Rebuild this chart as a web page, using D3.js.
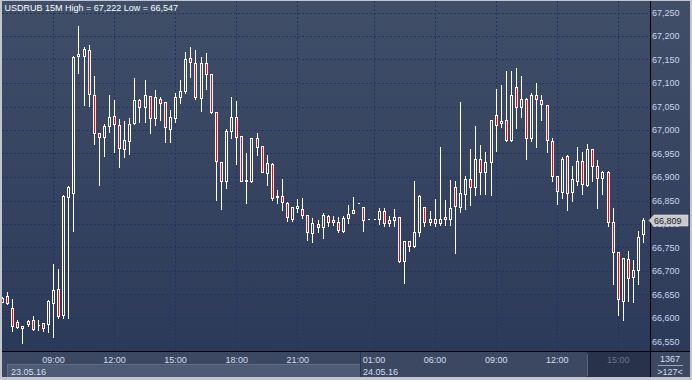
<!DOCTYPE html>
<html>
<head>
<meta charset="utf-8">
<script src="https://cdn.jsdelivr.net/npm/d3@7"></script>
<style>
  body { margin: 0; background: #c3c6cc; }
  svg { display: block; font-family: "Liberation Sans", Arial, sans-serif; }
</style>
</head>
<body>
<div id="chart"></div>
<script>
// USDRUB 15M candles (oldest first)
var opens = [
  66.643, 66.647, 66.621, 66.591, 66.578, 66.593, 66.596, 66.585, 66.589, 66.587,
  66.631, 66.662, 66.607, 66.858, 66.867, 67.157, 67.158, 67.170, 67.074, 66.993,
  66.985, 67.009, 67.030, 67.010, 66.959, 66.977, 67.014, 67.064, 67.048, 67.072,
  67.025, 67.067, 67.059, 67.002, 67.025, 67.070, 67.082, 67.153, 67.143, 67.069,
  67.143, 67.119, 67.038, 66.931, 66.892, 66.998, 67.027, 66.987, 66.892, 66.892,
  66.982, 66.965, 66.909, 66.927, 66.858, 66.860, 66.845, 66.811, 66.833, 66.832,
  66.819, 66.780, 66.799, 66.793, 66.816, 66.808, 66.804, 66.786, 66.812, 66.824,
  66.844, 66.836, 66.810, 66.810, 66.810, 66.827, 66.802, 66.808, 66.814, 66.721,
  66.763, 66.754, 66.784, 66.836, 66.804, 66.810, 66.802, 66.814, 66.810, 66.878,
  66.837, 66.863, 66.896, 66.878, 66.938, 66.910, 66.931, 67.031, 67.014, 67.021,
  66.979, 67.091, 67.050, 67.067, 66.982, 67.074, 67.063, 67.053, 66.976, 66.902,
  66.869, 66.945, 66.869, 66.892, 66.934, 66.882, 66.959, 66.924, 66.897, 66.910,
  66.805, 66.740, 66.637, 66.725, 66.687, 66.702, 66.778
];
var highs = [
  66.645, 66.656, 66.640, 66.596, 66.584, 66.596, 66.604, 66.596, 66.590, 66.638,
  66.715, 66.704, 66.862, 66.880, 67.157, 67.222, 67.176, 67.181, 67.115, 66.994,
  67.013, 67.074, 67.064, 67.023, 67.020, 67.026, 67.110, 67.066, 67.106, 67.073,
  67.085, 67.070, 67.060, 67.043, 67.079, 67.106, 67.165, 67.176, 67.170, 67.156,
  67.164, 67.120, 67.039, 66.932, 67.002, 67.071, 67.062, 66.988, 66.952, 66.984,
  66.993, 66.966, 66.947, 66.929, 66.872, 66.896, 66.846, 66.836, 66.853, 66.855,
  66.820, 66.812, 66.808, 66.824, 66.819, 66.817, 66.814, 66.816, 66.840, 66.858,
  66.844, 66.837, 66.810, 66.810, 66.833, 66.833, 66.817, 66.832, 66.815, 66.764,
  66.764, 66.892, 66.862, 66.837, 66.828, 66.853, 66.963, 66.851, 66.894, 66.892,
  67.059, 66.902, 66.960, 67.008, 66.968, 66.954, 67.021, 67.087, 67.096, 67.126,
  67.126, 67.131, 67.115, 67.068, 67.079, 67.101, 67.074, 67.054, 66.983, 66.903,
  66.942, 66.947, 66.923, 66.963, 66.953, 66.970, 66.960, 66.936, 66.912, 66.913,
  66.835, 66.741, 66.727, 66.743, 66.723, 66.785, 66.812
];
var lows = [
  66.633, 66.630, 66.573, 66.579, 66.547, 66.583, 66.574, 66.574, 66.573, 66.571,
  66.560, 66.601, 66.601, 66.601, 66.786, 67.122, 67.053, 67.051, 66.970, 66.882,
  66.945, 66.996, 66.954, 66.922, 66.942, 66.949, 67.012, 67.018, 67.018, 66.994,
  67.011, 67.021, 66.975, 66.975, 67.018, 67.058, 67.079, 67.113, 67.067, 67.041,
  67.087, 67.037, 66.851, 66.832, 66.877, 66.982, 66.928, 66.891, 66.845, 66.890,
  66.947, 66.910, 66.882, 66.851, 66.845, 66.830, 66.807, 66.807, 66.826, 66.813,
  66.766, 66.762, 66.782, 66.770, 66.796, 66.798, 66.784, 66.784, 66.803, 66.823,
  66.844, 66.786, 66.810, 66.810, 66.800, 66.796, 66.796, 66.796, 66.720, 66.675,
  66.743, 66.750, 66.774, 66.796, 66.798, 66.796, 66.798, 66.798, 66.798, 66.738,
  66.826, 66.831, 66.840, 66.862, 66.863, 66.863, 66.862, 66.956, 67.006, 66.977,
  66.977, 67.005, 67.028, 66.938, 66.977, 66.964, 67.021, 66.954, 66.892, 66.843,
  66.855, 66.830, 66.849, 66.883, 66.864, 66.881, 66.892, 66.835, 66.864, 66.795,
  66.673, 66.606, 66.596, 66.637, 66.633, 66.672, 66.762
];
var closes = [
  66.635, 66.631, 66.583, 66.580, 66.583, 66.587, 66.576, 66.586, 66.578, 66.636,
  66.660, 66.605, 66.860, 66.878, 67.155, 67.162, 67.172, 67.076, 66.993, 66.985,
  67.009, 67.027, 67.012, 66.961, 66.979, 67.013, 67.064, 67.048, 67.074, 67.025,
  67.070, 67.058, 67.006, 67.027, 67.070, 67.084, 67.150, 67.145, 67.071, 67.143,
  67.119, 67.038, 66.933, 66.892, 66.998, 67.027, 66.985, 66.892, 66.893, 66.982,
  66.963, 66.911, 66.929, 66.856, 66.859, 66.847, 66.814, 66.836, 66.838, 66.819,
  66.782, 66.802, 66.793, 66.819, 66.805, 66.804, 66.787, 66.812, 66.821, 66.830,
  66.844, 66.808, 66.810, 66.810, 66.827, 66.802, 66.808, 66.814, 66.721, 66.763,
  66.754, 66.784, 66.860, 66.804, 66.810, 66.802, 66.810, 66.810, 66.833, 66.838,
  66.865, 66.896, 66.879, 66.938, 66.910, 66.931, 67.021, 67.010, 67.019, 66.979,
  67.074, 67.050, 67.067, 66.984, 67.074, 67.065, 67.055, 66.978, 66.903, 66.871,
  66.938, 66.867, 66.896, 66.934, 66.885, 66.959, 66.924, 66.897, 66.910, 66.805,
  66.741, 66.640, 66.727, 66.685, 66.702, 66.773, 66.809
];

var priceTicks = [67.25, 67.20, 67.15, 67.10, 67.05, 67.00, 66.95, 66.90,
                  66.85, 66.80, 66.75, 66.70, 66.65, 66.60, 66.55];
var timeLabels = ["09:00", "12:00", "15:00", "18:00", "21:00",
                  "01:00", "06:00", "09:00", "12:00", "15:00"];
var timeIndex = [10, 22, 34, 46, 58, 73, 85, 97, 109, 121];
var dateLabels = ["23.05.16", "24.05.16"];
var dateIndex = [0, 73];
var symbol = "USDRUB 15M";
var barsTotal = 1367;
var barsShown = 127;

var W = 692, H = 380;
var plotL = 2, plotR = 650, plotT = 1, plotB = 351;

var ru = d3.formatLocale({decimal: ",", thousands: " ", grouping: [3], currency: ["", ""]});
var fmt = ru.format(".3f");

var candles = opens.map(function(o, i) {
  return {i: i, o: o, h: highs[i], l: lows[i], c: closes[i]};
});

var x = d3.scaleLinear().domain([0, 126]).range([2.6, 643.7]);
var y = d3.scaleLinear().domain([66.55, 67.25]).range([341.5, 12.5]);

var svg = d3.select("#chart").append("svg")
  .attr("width", W)
  .attr("height", H);

var defs = svg.append("defs");
var grad = defs.append("linearGradient")
  .attr("id", "bg")
  .attr("gradientUnits", "userSpaceOnUse")
  .attr("x1", 0).attr("y1", plotT).attr("x2", 0).attr("y2", plotB);
grad.append("stop").attr("offset", "0%").attr("stop-color", "#414e68");
grad.append("stop").attr("offset", "100%").attr("stop-color", "#2c3a59");

defs.append("clipPath").attr("id", "plotclip")
  .append("rect")
  .attr("x", plotL).attr("y", plotT)
  .attr("width", plotR - plotL).attr("height", plotB - plotT);

// backgrounds
svg.append("rect")
  .attr("x", plotL).attr("y", plotT)
  .attr("width", 690 - plotL).attr("height", plotB - plotT)
  .attr("fill", "url(#bg)");

svg.append("rect")
  .attr("x", plotL).attr("y", plotB)
  .attr("width", 690 - plotL).attr("height", 377 - plotB)
  .attr("fill", "#3c4862");

// date band of the first day
svg.append("rect")
  .attr("x", 7).attr("y", 365)
  .attr("width", x(dateIndex[1]) - 14 - 7).attr("height", 12)
  .attr("fill", "#4e5b76");
svg.append("line")
  .attr("x1", 7).attr("x2", x(dateIndex[1]) - 14)
  .attr("y1", 364.5).attr("y2", 364.5)
  .attr("stroke", "#5f6c88");
svg.append("line")
  .attr("x1", 7.5).attr("x2", 7.5)
  .attr("y1", 365).attr("y2", 377)
  .attr("stroke", "#5f6c88");
svg.append("line")
  .attr("x1", x(dateIndex[1]) - 13.5).attr("x2", x(dateIndex[1]) - 13.5)
  .attr("y1", 352).attr("y2", 377)
  .attr("stroke", "#2a3550");

// darker cell under the last hour
svg.append("rect")
  .attr("x", 587).attr("y", 352)
  .attr("width", plotR - 587).attr("height", 25)
  .attr("fill", "#28334b");
svg.append("line")
  .attr("x1", 587.5).attr("x2", 587.5)
  .attr("y1", 354).attr("y2", 376)
  .attr("stroke", "#5a6479");

// grid
var grid = svg.append("g")
  .attr("clip-path", "url(#plotclip)")
  .attr("stroke", "#1d3566")
  .attr("stroke-dasharray", "2,2");

grid.selectAll(".hg")
  .data(priceTicks)
  .enter()
  .append("line")
  .attr("x1", plotL).attr("x2", plotR)
  .attr("y1", d => Math.round(y(d)) + 0.5)
  .attr("y2", d => Math.round(y(d)) + 0.5);

grid.selectAll(".vg")
  .data(timeIndex)
  .enter()
  .append("line")
  .attr("y1", plotT).attr("y2", plotB)
  .attr("x1", d => Math.round(x(d) - 0.5) + 0.5)
  .attr("x2", d => Math.round(x(d) - 0.5) + 0.5);

// candles
var candleGroup = svg.append("g")
  .attr("clip-path", "url(#plotclip)")
  .attr("shape-rendering", "crispEdges");

var py = v => Math.round(y(v)) + 0.5;

candles.forEach(function(d) {
  var p = Math.round(x(d.i) - 0.5);
  var top = py(Math.max(d.o, d.c));
  var bot = py(Math.min(d.o, d.c));
  var hi = py(d.h);
  var lo = py(d.l);
  if (hi < top) {
    candleGroup.append("line")
      .attr("x1", p + 0.5).attr("x2", p + 0.5)
      .attr("y1", hi - 0.5).attr("y2", top)
      .attr("stroke", "#ffffff");
  }
  if (lo > bot) {
    candleGroup.append("line")
      .attr("x1", p + 0.5).attr("x2", p + 0.5)
      .attr("y1", bot).attr("y2", lo + 0.5)
      .attr("stroke", "#ffffff");
  }
  candleGroup.append("path")
    .attr("d", "M" + (p - 0.5) + "," + top + "H" + (p + 1.5) + "V" + bot + "H" + (p - 0.5) + "Z")
    .attr("fill", d.c < d.o ? "#ff0000" : "none")
    .attr("stroke", "#ffffff")
    .attr("stroke-width", 1);
});

// separators
svg.append("line")
  .attr("x1", plotL).attr("x2", 690)
  .attr("y1", plotB + 0.5).attr("y2", plotB + 0.5)
  .attr("stroke", "#000000");
svg.append("line")
  .attr("x1", plotR + 0.5).attr("x2", plotR + 0.5)
  .attr("y1", plotT).attr("y2", 377)
  .attr("stroke", "#000000");

// price axis labels
svg.append("g")
  .selectAll("text")
  .data(priceTicks)
  .enter()
  .append("text")
  .attr("x", 652)
  .attr("y", d => y(d) + 3.3)
  .attr("font-size", "9px")
  .attr("fill", "#c9d5ec")
  .text(d => fmt(d));

// last price tag
var last = closes[closes.length - 1];
var yc = Math.round(y(last)) + 0.5;
svg.append("path")
  .attr("d", "M649," + yc + "L654," + (yc - 5.5) + "H688V" + (yc + 5.5) + "H654Z")
  .attr("fill", "#c9c9c9")
  .attr("stroke", "#e6e6e6")
  .attr("stroke-width", 0.6);
svg.append("text")
  .attr("x", 654)
  .attr("y", yc + 3.3)
  .attr("font-size", "9px")
  .attr("fill", "#1c2030")
  .text(fmt(last));

// time axis labels
svg.append("g")
  .selectAll("text")
  .data(timeLabels)
  .enter()
  .append("text")
  .attr("x", (d, i) => x(timeIndex[i]))
  .attr("y", 363)
  .attr("text-anchor", "middle")
  .attr("font-size", "9px")
  .attr("fill", (d, i) => i === timeLabels.length - 1 ? "#68748c" : "#d6deee")
  .text(d => d);

svg.append("g")
  .selectAll("text")
  .data(dateLabels)
  .enter()
  .append("text")
  .attr("x", (d, i) => i === 0 ? 11 : x(dateIndex[i]) - 11)
  .attr("y", 374.5)
  .attr("font-size", "9px")
  .attr("fill", "#d6deee")
  .text(d => d);

// bar counter in the corner
svg.append("text")
  .attr("x", 670).attr("y", 362)
  .attr("text-anchor", "middle")
  .attr("font-size", "9px")
  .attr("fill", "#d6deee")
  .text(barsTotal);
svg.append("line")
  .attr("x1", 658).attr("x2", 683)
  .attr("y1", 365.5).attr("y2", 365.5)
  .attr("stroke", "#9aa4b8");
svg.append("text")
  .attr("x", 670).attr("y", 374.5)
  .attr("text-anchor", "middle")
  .attr("font-size", "9px")
  .attr("fill", "#d6deee")
  .text(">" + barsShown + "<");

// title
svg.append("text")
  .attr("x", 4.5).attr("y", 11)
  .attr("font-size", "9px")
  .attr("fill", "#ffffff")
  .text(symbol + " High = " + fmt(d3.max(highs)) + " Low = " + fmt(d3.min(lows)));
</script>
</body>
</html>
